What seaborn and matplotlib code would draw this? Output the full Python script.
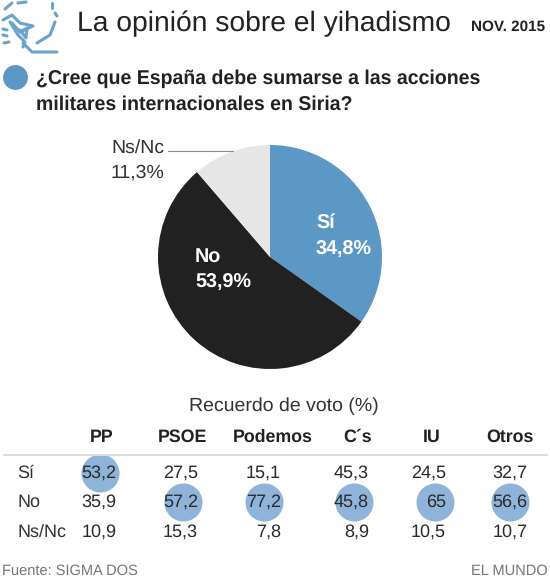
import numpy as np
import pandas as pd
import seaborn as sns
import matplotlib.pyplot as plt

answers = ["Sí", "No", "Ns/Nc"]
shares = [34.8, 53.9, 11.3]
share_labels = ["34,8%", "53,9%", "11,3%"]
pie_colors = ["#5b98c6", "#212121", "#e6e6e6"]

parties = ["PP", "PSOE", "Podemos", "C´s", "IU", "Otros"]
si_votes = [53.2, 27.5, 15.1, 45.3, 24.5, 32.7]
no_votes = [35.9, 57.2, 77.2, 45.8, 65, 56.6]
nsnc_votes = [10.9, 15.3, 7.8, 8.9, 10.5, 10.7]

sns.set_theme(style="white")
plt.rcParams["font.family"] = ["Liberation Sans", "DejaVu Sans"]
plt.rcParams["text.hinting"] = "none"

votes = pd.DataFrame({"Sí": si_votes, "No": no_votes, "Ns/Nc": nsnc_votes}, index=parties)
votes.index.name = "party"
long_votes = votes.reset_index().melt("party", var_name="answer", value_name="pct")

# pixel positions of the table
col_x = dict(zip(parties, [100, 183, 264, 354, 435, 510]))
head_x = dict(zip(parties, [102, 182, 273, 358, 432, 510]))
right_x = dict(zip(parties, [116.5, 198, 281, 369, 446, 527.5]))
row_y = dict(zip(answers, [473, 502, 532]))
long_votes["x"] = long_votes["party"].map(col_x)
long_votes["y"] = long_votes["answer"].map(row_y)
top = long_votes[long_votes["pct"] == long_votes.groupby("party")["pct"].transform("max")]

fig = plt.figure(figsize=(5.5, 5.83), dpi=100)
ax = fig.add_axes([0, 0, 1, 1])
ax.set_xlim(0, 550)
ax.set_ylim(583, 0)
ax.axis("off")

# logo strokes
logo = [
    [(5, 9), (12, 3)], [(18, 3), (26, 2)], [(52, 3), (52, 8)], [(55, 13), (57, 16)],
    [(3, 20), (12, 15), (20, 23), (33, 26), (20, 32), (12, 23)],
    [(10, 22), (18, 35), (25, 42), (23, 47)],
    [(20, 32), (27, 28), (26, 38), (20, 30)],
    [(23, 43), (32, 52), (57, 52)],
    [(55, 22), (50, 35), (37, 43)],
    [(3, 29), (7, 30)], [(3, 35), (7, 36)], [(4, 43), (9, 42)],
]
for stroke in logo:
    xs, ys = zip(*stroke)
    ax.plot(xs, ys, color="#6aa3cc", lw=2.2, solid_capstyle="round")

ax.text(77, 24, "La opinión sobre el yihadismo", fontsize=20.3, color="#222222", va="center")
ax.text(545, 26.5, "NOV. 2015", fontsize=11, fontweight="bold", color="#222222", va="center", ha="right")

ax.scatter([15], [77], s=320, color="#5b98c6", linewidths=0)
ax.text(36, 78.5, "¿Cree que España debe sumarse a las acciones", fontsize=14.05,
        fontweight="bold", color="#222222", va="center")
ax.text(36, 105, "militares internacionales en Siria?", fontsize=14.05,
        fontweight="bold", color="#222222", va="center")

# pie
pie_ax = fig.add_axes([(270 - 112) / 550, 1 - (257 + 112) / 583, 224 / 550, 224 / 583])
pie_ax.pie(shares, colors=pie_colors, startangle=90, counterclock=False, radius=1,
           wedgeprops={"linewidth": 0})
pie_ax.set_xlim(-1, 1)
pie_ax.set_ylim(-1, 1)
pie_ax.patch.set_alpha(0)

ax.set_zorder(2)
ax.patch.set_alpha(0)
ax.text(316, 223, answers[0], fontsize=14.2, fontweight="bold", color="white", va="center")
ax.text(316, 250, share_labels[0], fontsize=14.2, fontweight="bold", color="white", va="center")
ax.text(195, 257, answers[1], fontsize=14.2, fontweight="bold", color="white", va="center")
ax.text(195, 283, share_labels[1], fontsize=14.2, fontweight="bold", color="white", va="center")
ax.text(111, 148, answers[2], fontsize=14, color="#333333", va="center")
ax.text(111, 173, share_labels[2], fontsize=14, color="#333333", va="center")
ax.plot([168, 233], [151, 151], color="#888888", lw=0.8)

# table
ax.text(284, 406, "Recuerdo de voto (%)", fontsize=14, color="#333333", ha="center", va="center")
for party in parties:
    ax.text(head_x[party], 437, party, fontsize=12.8, fontweight="bold", color="#222222",
            ha="center", va="center")
ax.plot([4, 547], [455, 455], color="#dddddd", lw=1.4)

sns.scatterplot(data=top, x="x", y="y", s=750, color="#8fb3d9", linewidth=0,
                legend=False, ax=ax, zorder=1)
ax.set_xlim(0, 550)
ax.set_ylim(583, 0)

for answer in answers:
    ax.text(17.5, row_y[answer], answer, fontsize=13, color="#333333", va="center")
for _, row in long_votes.iterrows():
    label = f"{row['pct']:g}".replace(".", ",")
    ax.text(right_x[row["party"]], row["y"], label, fontsize=13, color="#2a2a2a",
            ha="right", va="center", zorder=3)

ax.text(2, 570.5, "Fuente: SIGMA DOS", fontsize=10.5, color="#777777", va="center")
ax.text(548, 570.5, "EL MUNDO", fontsize=10.5, color="#777777", va="center", ha="right")

fig.savefig("out.png", dpi=100)
plt.close()
